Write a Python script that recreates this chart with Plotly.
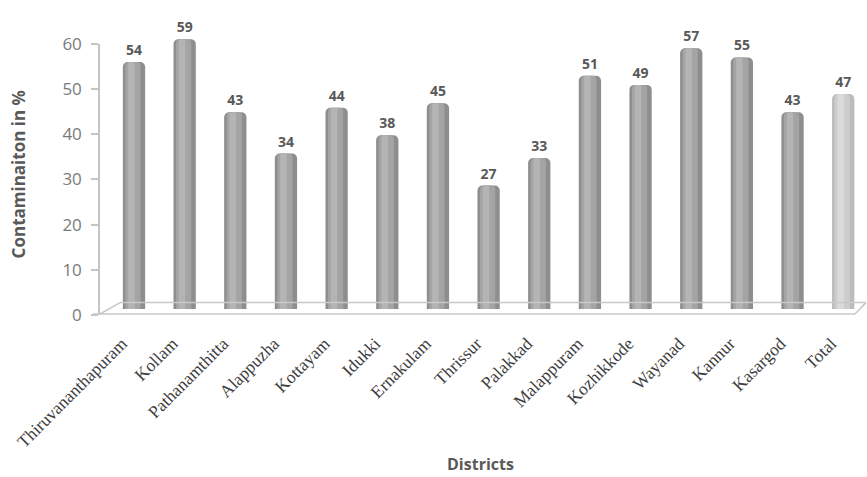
import plotly.graph_objects as go

districts = ["Thiruvananthapuram", "Kollam", "Pathanamthitta", "Alappuzha", "Kottayam",
             "Idukki", "Ernakulam", "Thrissur", "Palakkad", "Malappuram", "Kozhikkode",
             "Wayanad", "Kannur", "Kasargod", "Total"]
contamination = [54, 59, 43, 34, 44, 38, 45, 27, 33, 51, 49, 57, 55, 43, 47]
y_ticks = [0, 10, 20, 30, 40, 50, 60]

edge_col = ["#8e8e8e"] * 14 + ["#bcbcbc"]
mid_col = ["#a4a4a4"] * 14 + ["#cdcdcd"]
hi_col = ["#b4b4b4"] * 14 + ["#dadada"]

W, H = 867, 477
L, R, T, B = 100, 1, 10, 162
PLOT_TOP = T
PLOT_BOT = H - B          # 315
AXIS_TOP = 41

fig = go.Figure()
layers = [(0.44, edge_col, 0.0, 5), (0.30, mid_col, -0.02, 4), (0.13, hi_col, -0.05, 2)]
for i, (w, col, shift, cr) in enumerate(layers):
    fig.add_trace(go.Bar(
        x=districts, y=contamination, yaxis="y2",
        width=w, offset=-w / 2 + shift,
        marker=dict(color=col, line=dict(width=0), cornerradius=cr),
        text=[str(v) for v in contamination] if i == 0 else None,
        textposition="outside" if i == 0 else "none",
        textfont=dict(family="Open Sans", size=14, color="#595959", weight="bold"),
        cliponaxis=False, hoverinfo="skip", showlegend=False,
    ))
# invisible trace so the value axis is drawn
fig.add_trace(go.Scatter(x=[districts[0]], y=[0], yaxis="y", mode="markers",
                         marker=dict(opacity=0), hoverinfo="skip", showlegend=False))

axis_dom_top = (PLOT_BOT - AXIS_TOP) / (PLOT_BOT - PLOT_TOP)
bar_base_px, bar_k = 309.0, 4.62
y2_lo = -(PLOT_BOT - bar_base_px) / bar_k
y2_hi = (bar_base_px - PLOT_TOP) / bar_k

fig.update_layout(
    width=W, height=H,
    margin=dict(l=L, r=R, t=T, b=B),
    paper_bgcolor="white", plot_bgcolor="white",
    barmode="overlay",
    xaxis=dict(type="category", range=[-0.671, 14.45], showline=False, showgrid=False,
               zeroline=False, ticks="", tickangle=-45, ticklabelshift=-12,
               ticklabelstandoff=14,
               tickfont=dict(family="Liberation Serif", size=17.5, color="#3d3d3d")),
    yaxis=dict(domain=[0, axis_dom_top], range=[0, 60], tickvals=y_ticks, showgrid=False,
               zeroline=False, showline=True, linecolor="#c4c4c4", linewidth=1.5,
               ticks="outside", ticklen=7, tickcolor="#c4c4c4", tickwidth=1.5,
               ticklabelstandoff=6,
               tickfont=dict(family="Open Sans", size=17, color="#7a7a7a")),
    yaxis2=dict(domain=[0, 1], range=[y2_lo, y2_hi], anchor="x", visible=False),
    font=dict(family="Open Sans"),
)

floor_col = "#c8c8c8"
def px(xp):
    return (xp - L) / (W - L - R)
def py(yp):
    return (PLOT_BOT - yp) / (PLOT_BOT - PLOT_TOP)

fig.add_shape(type="line", xref="paper", yref="paper", x0=px(93), y0=py(314), x1=px(855), y1=py(314),
              line=dict(color=floor_col, width=1.5))
fig.add_shape(type="line", xref="paper", yref="paper", x0=px(120), y0=py(302.5), x1=px(866), y1=py(302.5),
              line=dict(color=floor_col, width=1.5))
fig.add_shape(type="line", xref="paper", yref="paper", x0=px(100), y0=py(314), x1=px(120), y1=py(302.5),
              line=dict(color=floor_col, width=1.5))
fig.add_shape(type="line", xref="paper", yref="paper", x0=px(855), y0=py(314), x1=px(866), y1=py(302.5),
              line=dict(color=floor_col, width=1.5))

fig.add_annotation(text="Contaminaiton in %", xref="paper", yref="paper",
                   x=px(18), y=py(173), xanchor="center", yanchor="middle",
                   textangle=-90, showarrow=False,
                   font=dict(family="Open Sans", size=17, color="#595959", weight="bold"))
fig.add_annotation(text="Districts", xref="paper", yref="paper",
                   x=px(480), y=py(465), xanchor="center", yanchor="middle", showarrow=False,
                   font=dict(family="Open Sans", size=16, color="#595959", weight="bold"))

fig.write_html("out.html")
